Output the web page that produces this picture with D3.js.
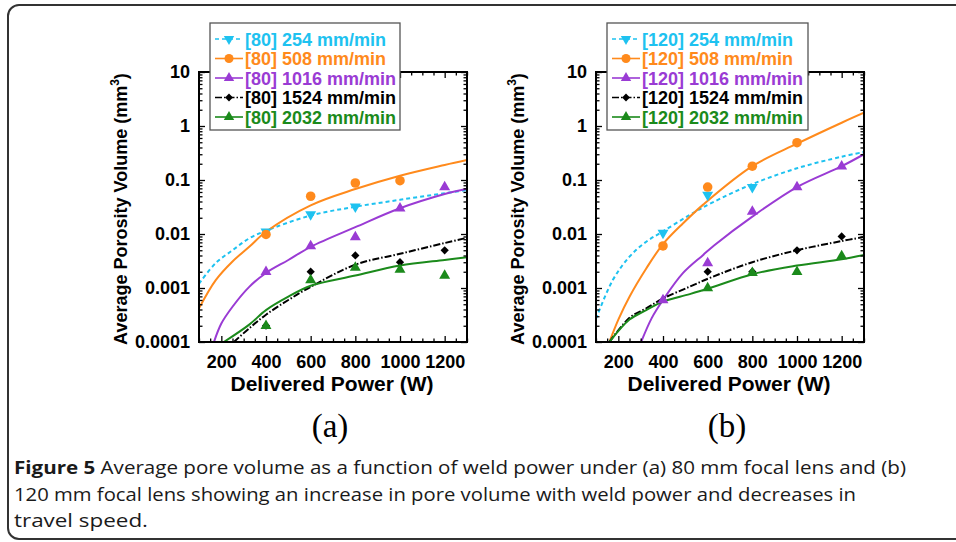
<!DOCTYPE html>
<html>
<head>
<meta charset="utf-8">
<script src="https://cdn.jsdelivr.net/npm/d3@7/dist/d3.min.js"></script>
<style>
  body { margin: 0; background: #fff; }
  svg text { font-family: "Liberation Sans", Arial, sans-serif; }
</style>
</head>
<body>
<svg id="chart" width="956" height="542"></svg>
<script>
// travel speeds (mm/min) and their styles, same order everywhere
const speeds = ['254', '508', '1016', '1524', '2032'];
const colors = ['#1ec2f0', '#ff8a1c', '#9a3bd4', '#000000', '#1b8a1b'];
const dashes = ['4,3', null, null, '7,2,1.5,2', null];
const shapes = ['down', 'circle', 'up', 'diamond', 'up'];

const xTicks = [200, 400, 600, 800, 1000, 1200];
const xMinor = [100, 150, 250, 300, 350, 450, 500, 550, 650, 700, 750, 850, 900, 950, 1050, 1100, 1150, 1250, 1300];
const yTicks = [0.0001, 0.001, 0.01, 0.1, 1, 10];
const yTickLabels = ['0.0001', '0.001', '0.01', '0.1', '1', '10'];

// (a) 80 mm lens: measured points [power W, volume mm3]
const pts80 = [
  [[400, 0.011], [600, 0.023], [800, 0.032]],
  [[400, 0.0098], [600, 0.05], [800, 0.088], [1000, 0.097]],
  [[400, 0.002], [600, 0.006], [800, 0.0088], [1000, 0.03], [1200, 0.074]],
  [[400, 0.0002], [600, 0.002], [800, 0.004], [1000, 0.003], [1200, 0.005]],
  [[400, 0.0002], [600, 0.0014], [800, 0.0024], [1000, 0.0022], [1200, 0.0017]]
];
// (a) fitted curves
const fit80 = [
  [[100, 0.0012], [175, 0.0029], [250, 0.005], [325, 0.0083], [400, 0.0115], [600, 0.022], [800, 0.032], [1000, 0.043], [1200, 0.057], [1300, 0.065]],
  [[100, 0.00042], [175, 0.0014], [250, 0.0031], [325, 0.0058], [400, 0.011], [600, 0.034], [800, 0.068], [1000, 0.12], [1200, 0.19], [1300, 0.235]],
  [[167, 0.0001], [200, 0.00022], [250, 0.00045], [325, 0.00105], [400, 0.0019], [500, 0.0033], [600, 0.0058], [800, 0.0134], [1000, 0.03], [1200, 0.055], [1300, 0.069]],
  [[256, 0.0001], [325, 0.00018], [400, 0.00032], [500, 0.0006], [600, 0.00105], [800, 0.0027], [1000, 0.0043], [1200, 0.0068], [1300, 0.0085]],
  [[211, 0.0001], [325, 0.00021], [400, 0.00039], [500, 0.00069], [600, 0.0011], [800, 0.0017], [1000, 0.0026], [1200, 0.0033], [1300, 0.0037]]
];

// (b) 120 mm lens
const pts120 = [
  [[400, 0.0105], [600, 0.053], [800, 0.074]],
  [[400, 0.006], [600, 0.074], [800, 0.18], [1000, 0.49]],
  [[400, 0.0006], [600, 0.0029], [800, 0.026], [1000, 0.074], [1200, 0.18]],
  [[600, 0.002], [800, 0.002], [1000, 0.005], [1200, 0.009]],
  [[600, 0.001], [800, 0.0019], [1000, 0.002], [1200, 0.0039]]
];
const fit120 = [
  [[100, 0.00027], [175, 0.0014], [250, 0.0038], [325, 0.0072], [400, 0.0112], [520, 0.0225], [620, 0.038], [800, 0.084], [1000, 0.165], [1200, 0.27], [1300, 0.33]],
  [[160, 0.0001], [200, 0.00026], [250, 0.00069], [325, 0.0023], [400, 0.0065], [490, 0.0158], [580, 0.035], [800, 0.18], [1000, 0.47], [1200, 1.15], [1300, 1.76]],
  [[302, 0.0001], [350, 0.00028], [400, 0.0006], [490, 0.0019], [580, 0.0041], [630, 0.0062], [800, 0.021], [1000, 0.074], [1200, 0.18], [1300, 0.3]],
  [[160, 0.0001], [250, 0.00028], [325, 0.00042], [400, 0.00064], [520, 0.00106], [620, 0.0016], [800, 0.003], [1000, 0.005], [1200, 0.0074], [1300, 0.0088]],
  [[160, 0.0001], [250, 0.00026], [325, 0.00039], [400, 0.00056], [520, 0.00077], [620, 0.00103], [800, 0.0018], [1000, 0.0026], [1200, 0.0034], [1300, 0.0041]]
];

const captionLines = [
  ['Figure 5', ' Average pore volume as a function of weld power under (a) 80 mm focal lens and (b)'],
  ['', '120 mm focal lens showing an increase in pore volume with weld power and decreases in'],
  ['', 'travel speed.']
];

const svg = d3.select('#chart');

// outer frame of the figure box
svg.append('rect')
  .attr('x', 8).attr('y', 5)
  .attr('width', 1000).attr('height', 534)
  .attr('rx', 11)
  .attr('fill', 'none')
  .attr('stroke', '#333')
  .attr('stroke-width', 2);

const W = 268, H = 270, plotTop = 72;

function marker(g, shape, x, y, color, s) {
  let sym, rot = 0, size;
  if (shape === 'circle') { sym = d3.symbolCircle; size = 72 * s; }
  else if (shape === 'diamond') { sym = d3.symbolSquare; size = 34 * s; rot = 45; }
  else { sym = d3.symbolTriangle; size = 52 * s; if (shape === 'down') rot = 180; }
  g.append('path')
    .attr('d', d3.symbol(sym, size)())
    .attr('transform', `translate(${x},${y}) rotate(${rot})`)
    .attr('fill', color);
}

function panel(ox, tag, lens, pts, fits, legendX, legendW) {
  const g = svg.append('g');
  const x = d3.scaleLinear().domain([100, 1300]).range([ox, ox + W]);
  const y = d3.scaleLog().domain([0.0001, 10]).range([plotTop + H, plotTop]);

  const clipId = 'clip' + tag;
  svg.append('clipPath').attr('id', clipId)
    .append('rect').attr('x', ox).attr('y', plotTop).attr('width', W).attr('height', H);

  // fitted curves
  const line = d3.line()
    .x(d => x(d[0]))
    .y(d => y(d[1]))
    .curve(d3.curveCatmullRom.alpha(0.5));
  fits.forEach((f, i) => {
    g.append('path')
      .attr('clip-path', `url(#${clipId})`)
      .attr('d', line(f))
      .attr('fill', 'none')
      .attr('stroke', colors[i])
      .attr('stroke-width', 2)
      .attr('stroke-dasharray', dashes[i]);
  });

  // measured points
  pts.forEach((p, i) => {
    p.forEach(d => marker(g, shapes[i], x(d[0]), y(d[1]), colors[i], 1));
  });

  // axes with inward ticks on all four sides
  const minorY = y.ticks().filter(v => !yTicks.some(t => Math.abs(t - v) / t < 1e-6));
  const axes = [
    [d3.axisBottom(x).tickValues(xTicks).tickSize(-6).tickFormat(d3.format('d')), `translate(0,${plotTop + H})`, 'x'],
    [d3.axisBottom(x).tickValues(xMinor).tickSize(-3.5).tickFormat(''), `translate(0,${plotTop + H})`, ''],
    [d3.axisTop(x).tickValues(xTicks).tickSize(-6).tickFormat(''), `translate(0,${plotTop})`, ''],
    [d3.axisTop(x).tickValues(xMinor).tickSize(-3.5).tickFormat(''), `translate(0,${plotTop})`, ''],
    [d3.axisLeft(y).tickValues(yTicks).tickSize(-6).tickFormat((d, i) => yTickLabels[i]), `translate(${ox},0)`, 'y'],
    [d3.axisLeft(y).tickValues(minorY).tickSize(-3.5).tickFormat(''), `translate(${ox},0)`, ''],
    [d3.axisRight(y).tickValues(yTicks).tickSize(-6).tickFormat(''), `translate(${ox + W},0)`, ''],
    [d3.axisRight(y).tickValues(minorY).tickSize(-3.5).tickFormat(''), `translate(${ox + W},0)`, '']
  ];
  axes.forEach(([ax, tr, kind]) => {
    const a = g.append('g').attr('transform', tr).call(ax.tickPadding(kind === 'x' ? 13 : 9));
    a.select('.domain').remove();
    a.selectAll('.tick line').attr('stroke', '#000').attr('stroke-width', 1.3);
    a.selectAll('.tick text')
      .attr('fill', '#000')
      .style('font-size', '18px')
      .style('font-weight', 'bold');
  });

  g.append('rect')
    .attr('x', ox).attr('y', plotTop).attr('width', W).attr('height', H)
    .attr('fill', 'none').attr('stroke', '#000').attr('stroke-width', 2);

  // axis titles
  g.append('text')
    .attr('x', ox + W / 2 - 1).attr('y', 391)
    .attr('text-anchor', 'middle')
    .style('font-size', '21px').style('font-weight', 'bold')
    .text('Delivered Power (W)');

  const yt = g.append('text')
    .attr('transform', `translate(${ox - 72},${plotTop + H / 2 + 2}) rotate(-90)`)
    .attr('text-anchor', 'middle')
    .style('font-size', '18px').style('font-weight', 'bold');
  yt.append('tspan').text('Average Porosity Volume (mm');
  yt.append('tspan').attr('dy', -8).style('font-size', '12px').text('3');
  yt.append('tspan').attr('dy', 8).text(')');

  g.append('text')
    .attr('x', ox + W / 2 - 3).attr('y', 437)
    .attr('text-anchor', 'middle')
    .style('font-family', '"Liberation Serif", "DejaVu Serif", serif')
    .style('font-size', '33px')
    .text(`(${tag})`);

  // legend
  const lg = g.append('g');
  lg.append('rect')
    .attr('x', legendX).attr('y', 23).attr('width', legendW).attr('height', 107)
    .attr('fill', '#fff').attr('stroke', '#555').attr('stroke-width', 1.3);
  speeds.forEach((s, i) => {
    const ly = 39 + i * 19.5;
    lg.append('line')
      .attr('x1', legendX + 5).attr('x2', legendX + 33)
      .attr('y1', ly).attr('y2', ly)
      .attr('stroke', colors[i]).attr('stroke-width', 1.6)
      .attr('stroke-dasharray', dashes[i]);
    marker(lg, shapes[i], legendX + 19, ly, colors[i], 0.9);
    lg.append('text')
      .attr('x', legendX + 35).attr('y', ly + 6.5)
      .attr('fill', colors[i])
      .style('font-size', '18px').style('font-weight', 'bold')
      .text(`[${lens}] ${s} mm/min`);
  });
}

panel(199, 'a', '80', pts80, fit80, 210, 190);
panel(596, 'b', '120', pts120, fit120, 607, 201);

// caption
const capW = [892, 842, 134];
captionLines.forEach((ln, i) => {
  const t = svg.append('text')
    .attr('x', 14).attr('y', 474 + i * 26.5)
    .attr('fill', '#1a1a1a')
    .attr('textLength', capW[i])
    .attr('lengthAdjust', 'spacingAndGlyphs')
    .style('font-family', '"Open Sans", "Noto Sans", sans-serif')
    .style('font-size', '18px');
  if (ln[0]) t.append('tspan').style('font-weight', 'bold').text(ln[0]);
  t.append('tspan').text(ln[1]);
});
</script>
</body>
</html>
